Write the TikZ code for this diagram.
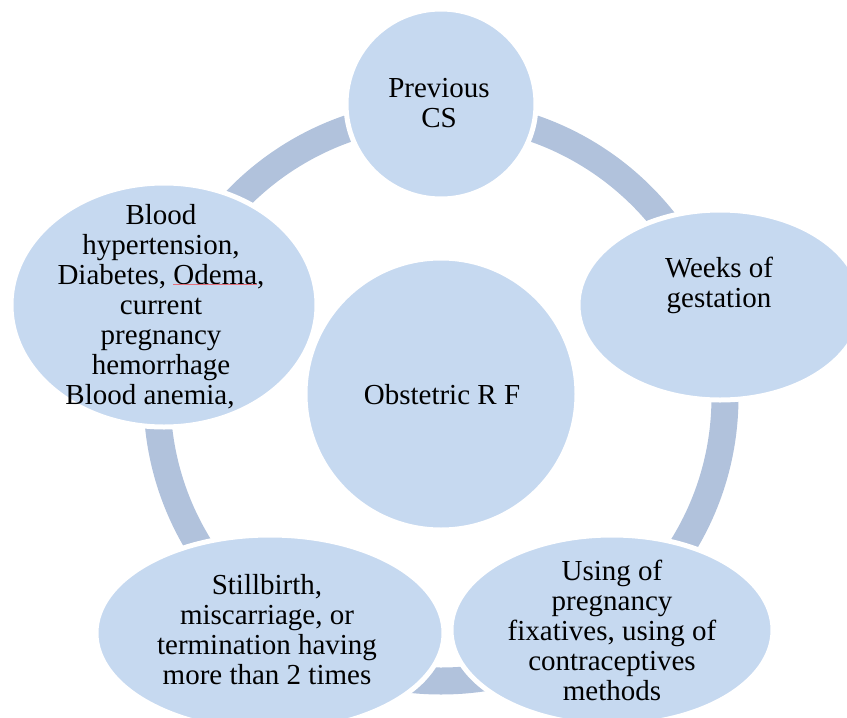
\documentclass[tikz,border=0pt]{standalone}
\usepackage{fontspec}
\setmainfont{Liberation Serif}
\usetikzlibrary{shapes.geometric}
\definecolor{bubble}{RGB}{198,217,240}
\definecolor{ringblue}{RGB}{177,194,220}
\definecolor{spellred}{RGB}{226,110,122}
\tikzset{
  blob/.style={ellipse, fill=bubble, draw=white, line width=5pt, inner sep=0pt},
  caption/.style={inner sep=0pt, align=center, text=black,
    font=\fontsize{29}{30}\selectfont},
}
\begin{document}
\begin{tikzpicture}[x=1pt, y=-1pt]
\useasboundingbox (0,0) rectangle (847,718);
\clip (0,0) rectangle (847,718);

% the cycle ring behind the bubbles
\coordinate (hub) at (441,397);
\draw[ringblue, line width=27pt] (hub) circle[radius=284];

% outer bubbles
\node[blob, minimum width=190, minimum height=190] (prev) at (441,104) {};
\node[blob, minimum width=284, minimum height=190] (weeks) at (720,305) {};
\node[blob, minimum width=322, minimum height=190] (using) at (612,630) {};
\node[blob, minimum width=348, minimum height=196] (still) at (270,633) {};
\node[blob, minimum width=306, minimum height=244] (blood) at (164,305) {};

% central bubble
\node[blob, minimum width=272, minimum height=272] (core) at (441,394) {};

% texts
\node[caption] (tprev) at (439,103.5) {Previous\\CS};
\node[caption] (tweeks) at (719,285.5) {Weeks of\\gestation};
\node[caption] (tusing) at (612,630) {Using of\\pregnancy\\fixatives, using of\\contraceptives\\methods};
\node[caption] (tstill) at (267,629.5) {Stillbirth,\\miscarriage, or\\termination having\\more than 2 times};
\node[caption] (tblood) at (161,306.5) {Blood\\hypertension,\\Diabetes, Odema,\\current\\pregnancy\\hemorrhage\\Blood anemia,\makebox[22pt]{}};
\node[caption] (tcore) at (442,394.7) {Obstetric R F};

% spelling mark under "Odema"
\draw[spellred, line width=1pt] (173,284) -- (257,284);
\end{tikzpicture}
\end{document}
